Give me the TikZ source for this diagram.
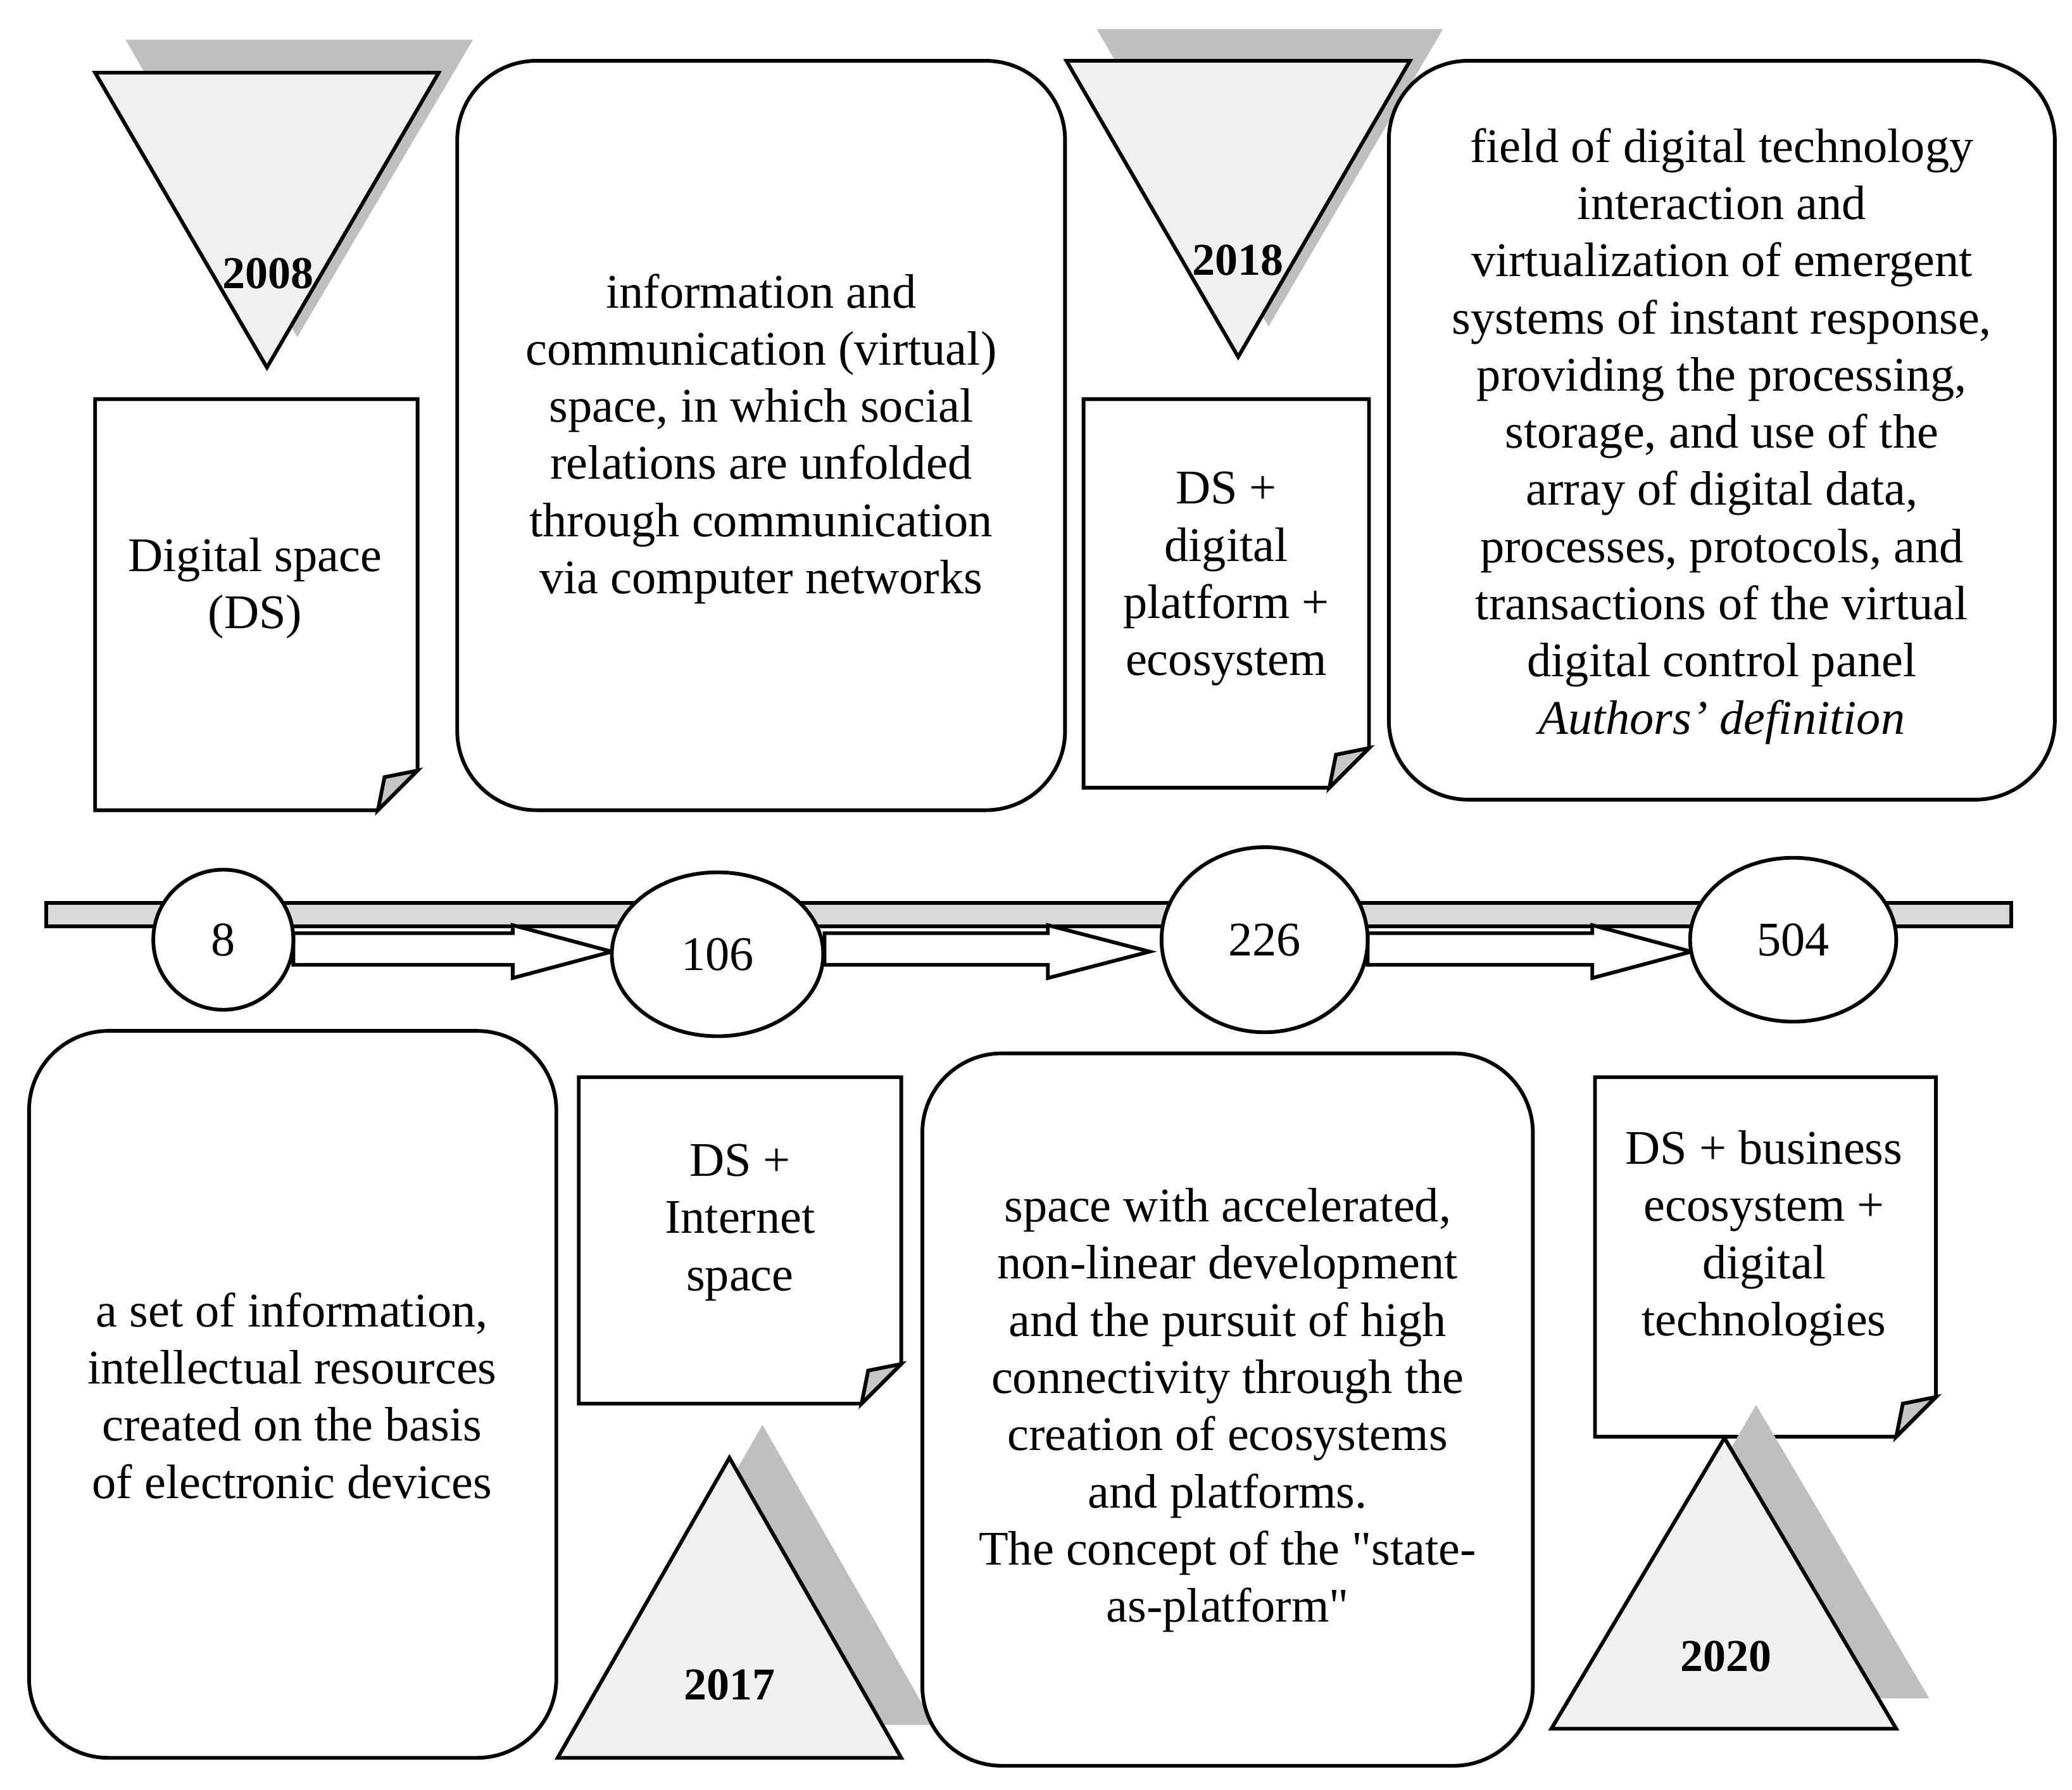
\documentclass[tikz,border=0pt]{standalone}
\usepackage{fontspec}
\setmainfont{Liberation Serif}
\newfontfamily\plainq{Liberation Serif}
\begin{document}
\begin{tikzpicture}[x=0.01cm,y=-0.01cm,line width=0.8pt,
  txt/.style={align=center,font=\fontsize{10.4}{12.3}\selectfont},
  rbox/.style={draw,rounded corners=0.6cm},
  tri/.style={draw,fill=gray!12},
  shad/.style={fill=gray!50,draw=none},
  yr/.style={font=\bfseries\fontsize{9.8}{12}\selectfont},
  harrow/.style={draw,fill=white}]
\useasboundingbox (0,0) rectangle (1568,1354);
\def\doc#1#2#3#4#5{% name x1 y1 x2 y2
  \draw (#2,#3) -- (#4,#3) -- (#4,#5-30) -- (#4-30,#5) -- (#2,#5) -- cycle;
  \draw[fill=gray!45] (#4,#5-30) -- (#4-30,#5) -- (#4-25,#5-25) -- cycle;
  \coordinate (#1) at ({(#2+#4)/2},{(#3+#5)/2});}
% top-left
\fill[shad] (95,30) -- (358,30) -- (225,255) -- cycle;
\draw[tri] (72,55) -- (332,55) -- (202,278) -- cycle;
\node[yr] (y2008) at (203,207) {2008};
\doc{d1}{72}{302}{316}{613}
\node[txt] (t1) at (193,445) {Digital space\\(DS)};
\draw[rbox] (346,46) rectangle (806,613);
\node[txt] (t2) at (576,332) {information and\\communication (virtual)\\space, in which social\\relations are unfolded\\through communication\\via computer networks};
\fill[shad] (830,22) -- (1092,22) -- (960,247) -- cycle;
\draw[tri] (807,46) -- (1067,46) -- (937,270) -- cycle;
\node[yr] (y2018) at (937,197) {2018};
\doc{d2}{820}{302}{1036}{596}
\node[txt] (t3) at (928,438) {DS +\\digital\\platform +\\ecosystem};
\draw[rbox] (1051,46) rectangle (1555,605);
\node[txt] (t4) at (1303,330) {field of digital technology\\interaction and\\virtualization of emergent\\systems of instant response,\\providing the processing,\\storage, and use of the\\array of digital data,\\processes, protocols, and\\transactions of the virtual\\digital control panel\\\textit{Authors' definition}};
% timeline
\draw[fill=gray!30] (35,683) rectangle (1522,701);
\draw[harrow] (222,706) -- (388,706) -- (388,700) -- (463,720) -- (388,740) -- (388,730) -- (222,730) -- cycle;
\draw[harrow] (624,706) -- (793,706) -- (793,700) -- (870,720) -- (793,740) -- (793,730) -- (624,730) -- cycle;
\draw[harrow] (1035,706) -- (1205,706) -- (1205,700) -- (1280,720) -- (1205,740) -- (1205,730) -- (1035,730) -- cycle;
\draw[fill=white] (169,711) ellipse [x radius=53,y radius=53]; \node[txt] (c1) at (169,711) {8};
\draw[fill=white] (543,722) ellipse [x radius=80,y radius=62]; \node[txt] (c2) at (543,722) {106};
\draw[fill=white] (957,711) ellipse [x radius=78,y radius=70]; \node[txt] (c3) at (957,711) {226};
\draw[fill=white] (1357,711) ellipse [x radius=78,y radius=62]; \node[txt] (c4) at (1357,711) {504};
% bottom
\draw[rbox] (22,780) rectangle (421,1330);
\node[txt] (b1) at (221,1056) {a set of information,\\intellectual resources\\created on the basis\\of electronic devices};
\doc{d3}{438}{815}{682}{1062}
\node[txt] (b2) at (560,925) {DS +\\Internet\\space};
\fill[shad] (577,1078) -- (707,1305) -- (447,1305) -- cycle;
\draw[tri] (422,1330) -- (682,1330) -- (552,1103) -- cycle;
\node[yr] (y2017) at (552,1275) {2017};
\draw[rbox] (698,797) rectangle (1160,1336);
\node[txt] (b3) at (929,1067) {space with accelerated,\\non-linear development\\and the pursuit of high\\connectivity through the\\creation of ecosystems\\and platforms.\\The concept of the {\plainq"}state-\\as-platform{\plainq"}};
\doc{d4}{1207}{815}{1465}{1087}
\node[txt] (b4) at (1335,937) {DS + business\\ecosystem +\\digital\\technologies};
\fill[shad] (1329,1063) -- (1460,1285) -- (1199,1285) -- cycle;
\draw[tri] (1174,1308) -- (1435,1308) -- (1305,1088) -- cycle;
\node[yr] (y2020) at (1306,1253) {2020};
\end{tikzpicture}
\end{document}
